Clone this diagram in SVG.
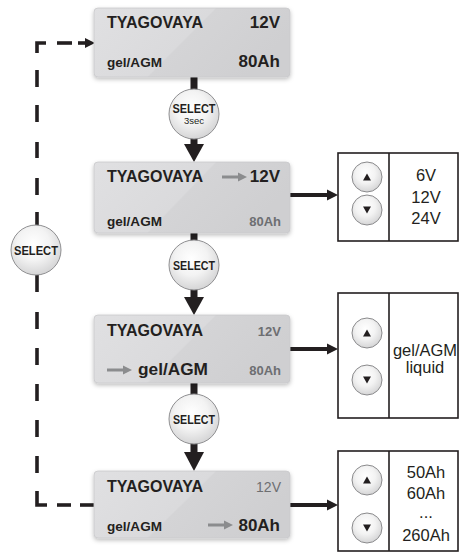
<svg xmlns="http://www.w3.org/2000/svg" xmlns:xlink="http://www.w3.org/1999/xlink" width="460" height="556" viewBox="0 0 460 556">
<style>
.t{font-family:"Liberation Sans",Arial,sans-serif;fill:#231f20}
.b{font-weight:bold}
.g{fill:#6d6e71}
.box{fill:url(#boxg);stroke:#c9c9cb;stroke-width:0.8;filter:url(#sh)}
.sel{fill:url(#selg);stroke:#8f8f91;stroke-width:1}
.btn{fill:url(#selg);stroke:#8a8a8c;stroke-width:1}
.panel{fill:#fff;stroke:#231f20;stroke-width:1.6}
.shaft{stroke:#231f20;stroke-width:7;fill:none}
.hshaft{stroke:#231f20;stroke-width:4;fill:none}
.dash{stroke:#231f20;stroke-width:3.6;fill:none}
.head{fill:#231f20}
.garrow{stroke:#8b8c8e;stroke-width:3;fill:none}
.ghead{fill:#8b8c8e}
.ps{font-family:"Liberation Sans",Arial,sans-serif;fill:#231f20;font-size:16.5px;text-anchor:middle}
</style>
<defs>
<linearGradient id="boxg" x1="0" y1="0" x2="1" y2="0.35">
<stop offset="0" stop-color="#e0e0e2"/>
<stop offset="0.55" stop-color="#dadadc"/>
<stop offset="0.56" stop-color="#d4d4d6"/>
<stop offset="1" stop-color="#cfcfd1"/>
</linearGradient>
<radialGradient id="selg" cx="0.45" cy="0.38" r="0.65">
<stop offset="0" stop-color="#ffffff"/>
<stop offset="0.5" stop-color="#f3f3f3"/>
<stop offset="1" stop-color="#d2d2d3"/>
</radialGradient>
<filter id="sh" x="-10%" y="-10%" width="120%" height="130%">
<feDropShadow dx="0" dy="2" stdDeviation="2" flood-color="#000" flood-opacity="0.25"/>
</filter>
<g id="up"><circle class="btn" cx="0" cy="0" r="15"/><polygon class="head" points="-4,3.5 4,3.5 0,-3.5"/></g>
<g id="down"><circle class="btn" cx="0" cy="0" r="15"/><polygon class="head" points="-4,-3.5 4,-3.5 0,3.5"/></g>
</defs>

<g id="connectors">
<line class="shaft" x1="194" y1="77" x2="194" y2="90"/>
<line class="shaft" x1="194" y1="138" x2="194" y2="146"/>
<polygon class="head" points="184,144 204,144 194,162"/>
<line class="shaft" x1="194" y1="232" x2="194" y2="241"/>
<line class="shaft" x1="194" y1="289" x2="194" y2="299"/>
<polygon class="head" points="184,297 204,297 194,315"/>
<line class="shaft" x1="194" y1="383" x2="194" y2="395"/>
<line class="shaft" x1="194" y1="443" x2="194" y2="454"/>
<polygon class="head" points="184,452 204,452 194,471"/>

<line class="hshaft" x1="290" y1="195" x2="330" y2="195"/>
<polygon class="head" points="327,189.5 338,195 327,200.5"/>
<line class="hshaft" x1="290" y1="349" x2="330" y2="349"/>
<polygon class="head" points="327,343.5 338,349 327,354.5"/>
<line class="hshaft" x1="290" y1="505" x2="330" y2="505"/>
<polygon class="head" points="327,499.5 338,505 327,510.5"/>

<path class="dash" d="M37,53 V43 H46"/>
<line class="dash" x1="57" y1="43" x2="72" y2="43"/>
<line class="dash" x1="78" y1="43" x2="87" y2="43"/>
<polygon class="head" points="85,38 95,43 85,48"/>
<line class="dash" x1="37" y1="70" x2="37" y2="87"/>
<line class="dash" x1="37" y1="105" x2="37" y2="122"/>
<line class="dash" x1="37" y1="142" x2="37" y2="158"/>
<line class="dash" x1="37" y1="178" x2="37" y2="195"/>
<line class="dash" x1="37" y1="212" x2="37" y2="226"/>
<line class="dash" x1="37" y1="275" x2="37" y2="292"/>
<line class="dash" x1="37" y1="312" x2="37" y2="329"/>
<line class="dash" x1="37" y1="348" x2="37" y2="365"/>
<line class="dash" x1="37" y1="384" x2="37" y2="401"/>
<line class="dash" x1="37" y1="420" x2="37" y2="437"/>
<line class="dash" x1="37" y1="456" x2="37" y2="473"/>
<path class="dash" d="M37,491 V505 H47"/>
<line class="dash" x1="57" y1="505" x2="71" y2="505"/>
<line class="dash" x1="80" y1="505" x2="94" y2="505"/>
</g>

<g id="box1">
<rect class="box" x="94" y="8" width="196" height="69" rx="4"/>
<text class="t b" x="107" y="28" font-size="16.5" textLength="96" lengthAdjust="spacingAndGlyphs">TYAGOVAYA</text>
<text class="t b" x="280" y="28" font-size="17" text-anchor="end">12V</text>
<text class="t b" x="107" y="67" font-size="13" textLength="55" lengthAdjust="spacingAndGlyphs">gel/AGM</text>
<text class="t b" x="280" y="67" font-size="17" text-anchor="end">80Ah</text>
</g>

<g id="select1">
<circle class="sel" cx="194" cy="114" r="25"/>
<text class="t b" x="194" y="113" font-size="13" text-anchor="middle" textLength="43" lengthAdjust="spacingAndGlyphs">SELECT</text>
<text class="t" x="194" y="124" font-size="9.5" text-anchor="middle">3sec</text>
</g>

<g id="box2">
<rect class="box" x="94" y="162" width="196" height="71" rx="4"/>
<text class="t b" x="107" y="182" font-size="16.5" textLength="96" lengthAdjust="spacingAndGlyphs">TYAGOVAYA</text>
<line class="garrow" x1="222" y1="177" x2="240" y2="177"/>
<polygon class="ghead" points="238,172.5 247,177 238,181.5"/>
<text class="t b" x="280" y="182" font-size="17" text-anchor="end">12V</text>
<text class="t b" x="107" y="226" font-size="13" textLength="55" lengthAdjust="spacingAndGlyphs">gel/AGM</text>
<text class="t b g" x="281" y="226" font-size="13" text-anchor="end">80Ah</text>
</g>

<g id="select2">
<circle class="sel" cx="194" cy="265" r="25"/>
<text class="t b" x="194" y="270" font-size="13" text-anchor="middle" textLength="42" lengthAdjust="spacingAndGlyphs">SELECT</text>
</g>

<g id="box3">
<rect class="box" x="94" y="315" width="196" height="68" rx="4"/>
<text class="t b" x="107" y="336" font-size="16.5" textLength="96" lengthAdjust="spacingAndGlyphs">TYAGOVAYA</text>
<text class="t b g" x="281" y="336" font-size="13" text-anchor="end">12V</text>
<line class="garrow" x1="107" y1="370" x2="125" y2="370"/>
<polygon class="ghead" points="123,365.5 132,370 123,374.5"/>
<text class="t b" x="138" y="375" font-size="17" textLength="70" lengthAdjust="spacingAndGlyphs">gel/AGM</text>
<text class="t b g" x="281" y="375" font-size="13" text-anchor="end">80Ah</text>
</g>

<g id="select3">
<circle class="sel" cx="194" cy="419" r="25"/>
<text class="t b" x="194" y="424" font-size="13" text-anchor="middle" textLength="42" lengthAdjust="spacingAndGlyphs">SELECT</text>
</g>

<g id="box4">
<rect class="box" x="94" y="471" width="196" height="67" rx="4"/>
<text class="t b" x="107" y="492" font-size="16.5" textLength="96" lengthAdjust="spacingAndGlyphs">TYAGOVAYA</text>
<text class="t g" x="281" y="492" font-size="14" text-anchor="end">12V</text>
<text class="t b" x="107" y="531" font-size="13" textLength="55" lengthAdjust="spacingAndGlyphs">gel/AGM</text>
<line class="garrow" x1="208" y1="525" x2="226" y2="525"/>
<polygon class="ghead" points="224,520.5 233,525 224,529.5"/>
<text class="t b" x="280" y="531" font-size="17" text-anchor="end">80Ah</text>
</g>

<g id="selectLoop">
<circle class="sel" cx="36" cy="250" r="25"/>
<text class="t b" x="36" y="255" font-size="13" text-anchor="middle" textLength="44" lengthAdjust="spacingAndGlyphs">SELECT</text>
</g>

<g id="panel1">
<rect class="panel" x="338" y="153" width="120" height="88"/>
<line class="panel" x1="389" y1="153" x2="389" y2="241"/>
<use xlink:href="#up" x="367" y="177"/>
<use xlink:href="#down" x="367" y="210"/>
<text class="ps" x="426" y="181">6V</text>
<text class="ps" x="426" y="203">12V</text>
<text class="ps" x="426" y="224">24V</text>
</g>

<g id="panel2">
<rect class="panel" x="338" y="293" width="120" height="125"/>
<line class="panel" x1="389" y1="293" x2="389" y2="418"/>
<use xlink:href="#up" x="367" y="333"/>
<use xlink:href="#down" x="367" y="380"/>
<text class="ps" x="425" y="356" font-size="16">gel/AGM</text>
<text class="ps" x="425" y="373" font-size="16">liquid</text>
</g>

<g id="panel3">
<rect class="panel" x="338" y="451" width="120" height="100"/>
<line class="panel" x1="389" y1="451" x2="389" y2="551"/>
<use xlink:href="#up" x="367" y="480"/>
<use xlink:href="#down" x="367" y="528"/>
<text class="ps" x="426" y="478">50Ah</text>
<text class="ps" x="426" y="499">60Ah</text>
<text class="ps" x="426" y="518">...</text>
<text class="ps" x="426" y="541">260Ah</text>
</g>
</svg>
